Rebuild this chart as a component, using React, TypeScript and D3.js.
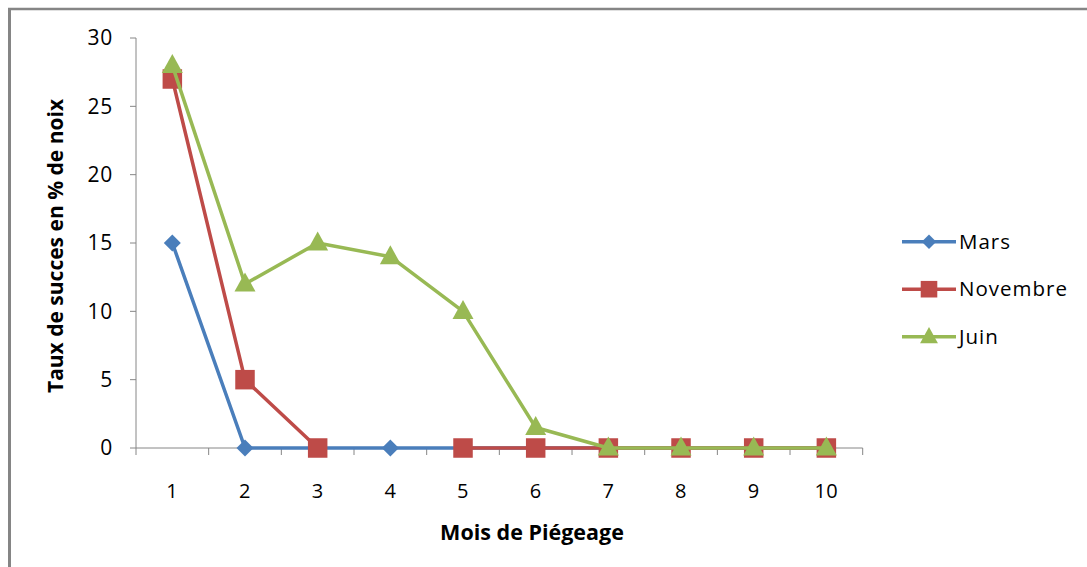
import React from "react";
import * as d3 from "d3";

const months = [1, 2, 3, 4, 5, 6, 7, 8, 9, 10];
const mars: (number | null)[] = [15, 0, 0, 0, 0, 0, 0, 0, 0, 0];
const novembre: (number | null)[] = [27, 5, 0, null, 0, 0, 0, 0, 0, 0];
const juin: (number | null)[] = [28, 12, 15, 14, 10, 1.5, 0, 0, 0, 0];
const yTicks = [0, 5, 10, 15, 20, 25, 30];
const seriesNames = ["Mars", "Novembre", "Juin"];

const W = 1087;
const H = 567;
const FONT = "'Open Sans', sans-serif";

export default function App() {
  const x0 = 136, x1 = 862.7;
  const yBottom = 448, yTop = 38;
  const xBand = d3.scaleBand<number>().domain(months).range([x0, x1]);
  const x = (m: number) => (xBand(m) as number) + xBand.bandwidth() / 2;
  const y = d3.scaleLinear().domain([0, 30]).range([yBottom, yTop]);

  const series = [
    { name: seriesNames[0], data: mars, color: "#4A7EBB", marker: "diamond" },
    { name: seriesNames[1], data: novembre, color: "#BE4B48", marker: "square" },
    { name: seriesNames[2], data: juin, color: "#98B954", marker: "triangle" },
  ];

  const line = d3
    .line<number | null>()
    .defined((d) => d !== null)
    .x((_, i) => x(months[i]))
    .y((d) => y(d as number));

  const marker = (type: string, cx: number, cy: number, color: string, scale = 1) => {
    if (type === "diamond") {
      const r = 8.5 * scale;
      return <path d={`M${cx},${cy - r}L${cx + r},${cy}L${cx},${cy + r}L${cx - r},${cy}Z`} fill={color} />;
    }
    if (type === "square") {
      const s = 19.5 * scale;
      return <rect x={cx - s / 2} y={cy - s / 2} width={s} height={s} fill={color} />;
    }
    const w = 21 * scale, h = 19 * scale;
    return <path d={`M${cx},${cy - h * 0.6}L${cx + w / 2},${cy + h * 0.4}L${cx - w / 2},${cy + h * 0.4}Z`} fill={color} />;
  };

  const tickX = d3.range(0, months.length + 1).map((i) => x0 + (i * (x1 - x0)) / months.length);

  return (
    <svg width={W} height={H} style={{ position: "absolute", left: 0, top: 0, background: "#fff" }} fontFamily={FONT}>
      <rect x={0} y={0} width={W} height={H} fill="#fff" />
      {/* outer frame */}
      <line x1={8} y1={9} x2={1087} y2={9} stroke="#858585" strokeWidth={2.5} />
      <line x1={9.5} y1={8} x2={9.5} y2={567} stroke="#858585" strokeWidth={3} />

      {/* y axis */}
      <line x1={x0} y1={yTop} x2={x0} y2={yBottom} stroke="#868686" strokeWidth={1} />
      {yTicks.map((t) => (
        <g key={t}>
          <line x1={x0 - 6} y1={y(t)} x2={x0} y2={y(t)} stroke="#868686" strokeWidth={1} />
          <text x={113} y={y(t)} dy="0.35em" textAnchor="end" fontSize={21} letterSpacing={0.8} fill="#000">
            {t}
          </text>
        </g>
      ))}
      {/* x axis */}
      <line x1={x0} y1={yBottom} x2={x1} y2={yBottom} stroke="#868686" strokeWidth={1} />
      {tickX.map((tx, i) => (
        <line key={i} x1={tx} y1={yBottom} x2={tx} y2={yBottom + 7} stroke="#868686" strokeWidth={1} />
      ))}
      {months.map((m) => (
        <text key={m} x={x(m)} y={497.5} textAnchor="middle" fontSize={20} letterSpacing={0.5} fill="#000">
          {m}
        </text>
      ))}

      {/* titles */}
      <text
        transform={`translate(63,246) rotate(-90)`}
        textAnchor="middle"
        fontSize={21}
        fontWeight="bold"
        fill="#000"
      >
        Taux de succes en % de noix
      </text>
      <text x={532} y={540} textAnchor="middle" fontSize={21.5} fontWeight="bold" fill="#000">
        Mois de Piégeage
      </text>

      {/* series */}
      {series.map((s) => (
        <g key={s.name}>
          <path d={line(s.data) as string} fill="none" stroke={s.color} strokeWidth={3.5} strokeLinejoin="round" />
          {s.data.map((d, i) =>
            d === null ? null : <g key={i}>{marker(s.marker, x(months[i]), y(d), s.color)}</g>
          )}
        </g>
      ))}

      {/* legend */}
      {series.map((s, i) => {
        const ly = 241.7 + i * 47.5;
        return (
          <g key={s.name}>
            <line x1={902} y1={ly} x2={956} y2={ly} stroke={s.color} strokeWidth={3.5} />
            {marker(s.marker, 929, ly, s.color, 0.85)}
            <text x={959} y={ly} dy="0.35em" fontSize={20.5} letterSpacing={1} fill="#000">
              {s.name}
            </text>
          </g>
        );
      })}
    </svg>
  );
}
